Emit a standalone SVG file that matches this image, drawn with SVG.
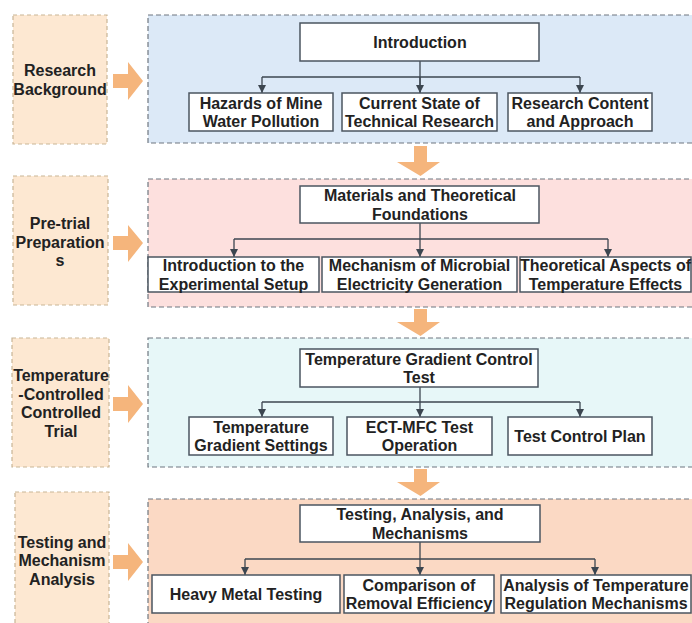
<svg xmlns="http://www.w3.org/2000/svg" width="692" height="623" viewBox="0 0 692 623">
<defs>
<style>
.side{fill:#fde8d2;stroke:#c9b596;stroke-width:1.2;stroke-dasharray:4 3}
.panel{stroke:#6f7780;stroke-width:1.2;stroke-dasharray:5 3}
.box{fill:#ffffff;stroke:#4b5560;stroke-width:1.5}
.t{font-family:"Liberation Sans",Arial,sans-serif;font-weight:bold;font-size:16px;fill:#222;text-anchor:middle}
.flow{fill:#f5b57c}
.con{fill:none;stroke:#3c4650;stroke-width:1.3}
</style>
<marker id="ah" viewBox="0 0 10 10" refX="10" refY="5" markerWidth="8" markerHeight="8" markerUnits="userSpaceOnUse" orient="auto">
<path d="M0,0 L10,5 L0,10 z" fill="#3c4650"/>
</marker>
</defs>
<rect width="692" height="623" fill="#ffffff"/>

<!-- panels -->
<g id="panel1"><rect class="panel" x="148" y="15" width="560" height="128" fill="#dce9f7"/></g>
<g id="panel2"><rect class="panel" x="148" y="179" width="560" height="128" fill="#fde0de"/></g>
<g id="panel3"><rect class="panel" x="148" y="338" width="560" height="129" fill="#e7f7f8"/></g>
<g id="panel4"><rect class="panel" x="148" y="499" width="560" height="140" fill="#fbd9c4"/></g>

<!-- side labels -->
<g id="side1"><rect class="side" x="13" y="15" width="94" height="129"/>
<text class="t" x="60" y="75.5">Research<tspan x="60" dy="19">Background</tspan></text></g>
<g id="side2"><rect class="side" x="13" y="176" width="95" height="129"/>
<text class="t" x="60" y="229">Pre-trial<tspan x="60" dy="18.5">Preparation</tspan><tspan x="60" dy="18.5">s</tspan></text></g>
<g id="side3"><rect class="side" x="12" y="338" width="97" height="129"/>
<text class="t" x="61" y="381">Temperature<tspan x="61" dy="18.5">-Controlled</tspan><tspan x="61" dy="18.5">Controlled</tspan><tspan x="61" dy="18.5">Trial</tspan></text></g>
<g id="side4"><rect class="side" x="15" y="492" width="94" height="150"/>
<text class="t" x="62" y="547.5">Testing and<tspan x="62" dy="18.5">Mechanism</tspan><tspan x="62" dy="18.5">Analysis</tspan></text></g>

<!-- flow arrows -->
<g id="flow-arrows">
<path class="flow" d="M113,74 H128 V62 L143,81 L128,100 V88 H113 z"/>
<path class="flow" d="M113,236 H128 V225 L143,243 L128,262 V250 H113 z"/>
<path class="flow" d="M113,397 H128 V385 L143,404 L128,423 V411 H113 z"/>
<path class="flow" d="M113,555 H128 V543 L143,562 L128,581 V569 H113 z"/>
<path class="flow" d="M414,146 H427 V162 H440 L420.5,176 L397,162 H414 z"/>
<path class="flow" d="M414,309 H427 V322 H440 L420.5,336 L397,322 H414 z"/>
<path class="flow" d="M414,469 H427 V482 H440 L420.5,496 L397,482 H414 z"/>
</g>

<!-- connectors -->
<g id="connectors">
<path class="con" d="M420,61 V93"/>
<path class="con" d="M262,77 H580"/>
<path class="con" d="M262,77 V93" marker-end="url(#ah)"/>
<path class="con" d="M420,77 V93" marker-end="url(#ah)"/>
<path class="con" d="M580,77 V93" marker-end="url(#ah)"/>

<path class="con" d="M420,223 V239"/>
<path class="con" d="M234,239 H608"/>
<path class="con" d="M234,239 V257" marker-end="url(#ah)"/>
<path class="con" d="M420,239 V257" marker-end="url(#ah)"/>
<path class="con" d="M608,239 V257" marker-end="url(#ah)"/>

<path class="con" d="M420,387 V402"/>
<path class="con" d="M262,402 H580"/>
<path class="con" d="M262,402 V417" marker-end="url(#ah)"/>
<path class="con" d="M420,402 V417" marker-end="url(#ah)"/>
<path class="con" d="M580,402 V417" marker-end="url(#ah)"/>

<path class="con" d="M420,542 V559"/>
<path class="con" d="M245,559 H595"/>
<path class="con" d="M245,559 V575" marker-end="url(#ah)"/>
<path class="con" d="M420,559 V575" marker-end="url(#ah)"/>
<path class="con" d="M595,559 V575" marker-end="url(#ah)"/>
</g>

<!-- row 1 -->
<g id="intro"><rect class="box" x="300" y="23" width="239" height="38"/><text class="t" x="420" y="47.5">Introduction</text></g>
<g id="hazards"><rect class="box" x="189" y="93" width="144" height="38"/><text class="t" x="261" y="108.5">Hazards of Mine<tspan x="261" dy="18.5">Water Pollution</tspan></text></g>
<g id="current"><rect class="box" x="342" y="93" width="155" height="38"/><text class="t" x="419.5" y="108.5">Current State of<tspan x="419.5" dy="18.5">Technical Research</tspan></text></g>
<g id="content"><rect class="box" x="508" y="93" width="144" height="38"/><text class="t" x="580" y="108.5">Research Content<tspan x="580" dy="18.5">and Approach</tspan></text></g>

<!-- row 2 -->
<g id="materials"><rect class="box" x="300" y="186" width="239" height="37"/><text class="t" x="420" y="201">Materials and Theoretical<tspan x="420" dy="18.5">Foundations</tspan></text></g>
<g id="setup"><rect class="box" x="148" y="257" width="171" height="35"/><text class="t" x="233.5" y="271">Introduction to the<tspan x="233.5" dy="18.5">Experimental Setup</tspan></text></g>
<g id="mechanism"><rect class="box" x="322" y="257" width="195" height="35"/><text class="t" x="419.5" y="271">Mechanism of Microbial<tspan x="419.5" dy="18.5">Electricity Generation</tspan></text></g>
<g id="theoretical"><rect class="box" x="520" y="257" width="171" height="35"/><text class="t" x="605.5" y="271">Theoretical Aspects of<tspan x="605.5" dy="18.5">Temperature Effects</tspan></text></g>

<!-- row 3 -->
<g id="gradient-test"><rect class="box" x="300" y="349" width="238" height="38"/><text class="t" x="419" y="364.5">Temperature Gradient Control<tspan x="419" dy="18.5">Test</tspan></text></g>
<g id="gradient-settings"><rect class="box" x="189" y="417" width="144" height="38"/><text class="t" x="261" y="432.5">Temperature<tspan x="261" dy="18.5">Gradient Settings</tspan></text></g>
<g id="ect-mfc"><rect class="box" x="347" y="417" width="145" height="38"/><text class="t" x="419.5" y="432.5">ECT-MFC Test<tspan x="419.5" dy="18.5">Operation</tspan></text></g>
<g id="control-plan"><rect class="box" x="508" y="417" width="144" height="38"/><text class="t" x="580" y="441.5">Test Control Plan</text></g>

<!-- row 4 -->
<g id="testing"><rect class="box" x="300" y="505" width="240" height="37"/><text class="t" x="420" y="520">Testing, Analysis, and<tspan x="420" dy="18.5">Mechanisms</tspan></text></g>
<g id="heavy-metal"><rect class="box" x="152" y="575" width="188" height="38"/><text class="t" x="246" y="599.5">Heavy Metal Testing</text></g>
<g id="comparison"><rect class="box" x="344" y="575" width="150" height="38"/><text class="t" x="419" y="590.5">Comparison of<tspan x="419" dy="18.5">Removal Efficiency</tspan></text></g>
<g id="analysis"><rect class="box" x="501" y="575" width="190" height="38"/><text class="t" x="596" y="590.5">Analysis of Temperature<tspan x="596" dy="18.5">Regulation Mechanisms</tspan></text></g>
</svg>
